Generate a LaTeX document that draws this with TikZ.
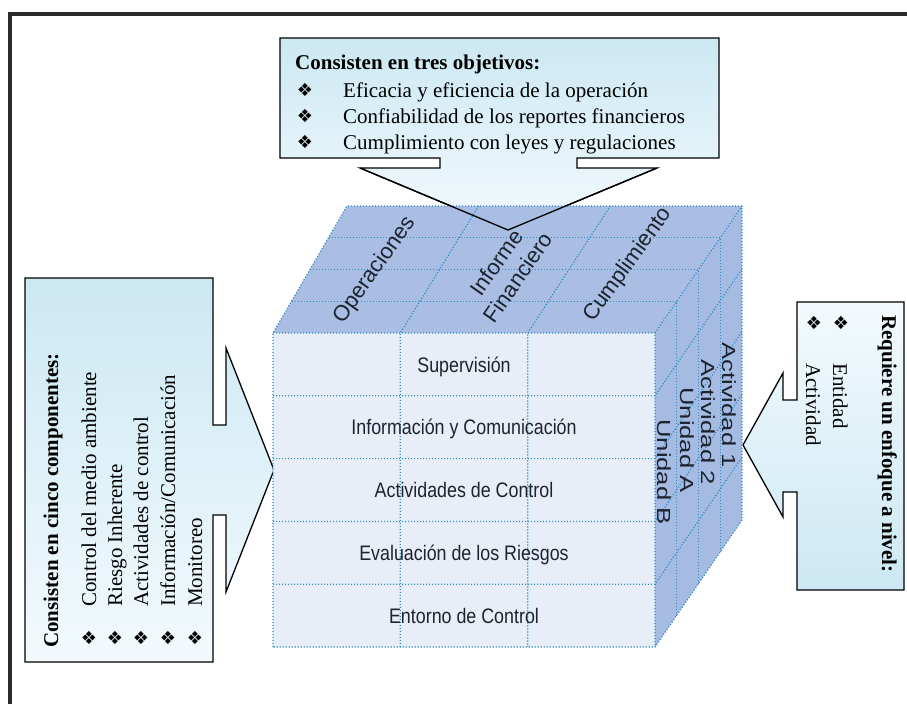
\documentclass[tikz,border=0pt]{standalone}
\usepackage{fontspec}
\setmainfont{Liberation Serif}
\setsansfont{Liberation Sans}
\newfontfamily\cubefont[FakeStretch=0.85]{Liberation Sans}
\newfontfamily\sidefont[FakeStretch=1.35]{Liberation Sans}
\newfontfamily\symfont{DejaVu Sans}
\usetikzlibrary{calc,positioning}
\definecolor{frameline}{HTML}{2B2B2B}
\definecolor{callblue}{RGB}{204,232,243}
\definecolor{calllight}{RGB}{243,250,253}
\definecolor{cubetop}{RGB}{169,190,226}
\definecolor{cubeside}{RGB}{166,187,225}
\definecolor{cubefront}{RGB}{232,238,248}
\definecolor{gridline}{RGB}{50,140,196}
\definecolor{cubetext}{RGB}{28,36,48}
\newcommand{\diabul}{{\symfont\fontsize{18}{18}\selectfont ❖}}
\tikzset{
    frameedge/.style={frameline, line width=4pt},
    callline/.style={draw=black, line width=1.3pt, line join=miter},
    dotline/.style={gridline, line width=1.2pt, dash pattern=on 1.2pt off 1.8pt},
    frontlab/.style={text=cubetext, anchor=base, inner sep=0pt, font=\cubefont\fontsize{21}{21}\selectfont},
    toplab/.style={text=cubetext, align=center, inner sep=0pt, font=\sffamily\fontsize{22}{26}\selectfont},
    sidelab/.style={text=cubetext, rotate=-90, inner sep=0pt, font=\sidefont\fontsize{19}{19}\selectfont},
    calltext/.style={anchor=base west, inner sep=0pt, font=\fontsize{21}{25}\selectfont},
    calltitle/.style={calltext, font=\bfseries\fontsize{21}{25}\selectfont},
    bul/.style={inner sep=0pt}
}
\begin{document}
\begin{tikzpicture}[x=1pt, y=-1pt]
\useasboundingbox (0,0) rectangle (907,704);
\draw[frameedge] (10,704) -- (10,14) -- (907,14);

% callouts
\coordinate (toptip) at (508,230);
\coordinate (lefttip) at (274,470);
\coordinate (righttip) at (743,445);
\shadedraw[callline, top color=callblue, bottom color=calllight]
    (280,38) -- (719,38) -- (719,158) -- (577,158) -- (577,168) -- (657,168) -- (toptip)
    -- (360,168) -- (440,168) -- (440,158) -- (280,158) -- cycle;
\shadedraw[callline, top color=callblue, bottom color=calllight]
    (25,278) -- (213,278) -- (213,425) -- (226,425) -- (226,348) -- (lefttip)
    -- (226,592) -- (226,515) -- (213,515) -- (213,662) -- (25,662) -- cycle;
\shadedraw[callline, top color=calllight, bottom color=callblue]
    (904,302) -- (797,302) -- (797,400) -- (783,400) -- (783,373) -- (righttip)
    -- (783,517) -- (783,492) -- (797,492) -- (797,590) -- (904,590) -- cycle;

% cube
\coordinate (ftl) at (273,333);
\coordinate (ftr) at (655,333);
\coordinate (fbl) at (273,647);
\coordinate (fbr) at (655,647);
\coordinate (btl) at (347,206);
\coordinate (btr) at (742,206);
\coordinate (bbr) at (742,520);
\fill[cubetop] (ftl) -- (btl) -- (btr) -- (ftr) -- cycle;
\fill[cubeside] (ftr) -- (btr) -- (bbr) -- (fbr) -- cycle;
\fill[cubefront] (ftl) rectangle (fbr);
\foreach \k in {1,2,3}
    \draw[dotline] ($(ftl)!\k/4!(btl)$) -- ($(ftr)!\k/4!(btr)$) -- ($(fbr)!\k/4!(bbr)$);
\foreach \k in {1,2}
    \draw[dotline] ($(btl)!\k/3!(btr)$) -- ($(ftl)!\k/3!(ftr)$) -- ($(fbl)!\k/3!(fbr)$);
\foreach \r in {1,...,4}
    \draw[dotline] ($(ftl)!\r/5!(fbl)$) -- ($(ftr)!\r/5!(fbr)$) -- ($(btr)!\r/5!(bbr)$);
\draw[dotline] (fbl) -- (ftl) -- (btl) -- (btr) -- (bbr) -- (fbr) -- cycle;
\draw[dotline] (ftl) -- (ftr) -- (fbr) (ftr) -- (btr);
\draw[callline] (360,168) -- (toptip) -- (657,168);

\node[toplab, rotate=55] (oper) at (375,270) {Operaciones};
\node[toplab, rotate=55] (infofin) at (507,270) {Informe\\Financiero};
\node[toplab, rotate=54] (cump) at (628,265) {Cumplimiento};

\node[frontlab] (sup) at (464,372) {Supervisión};
\node[frontlab] (info) at (464,434) {Información y Comunicación};
\node[frontlab] (act) at (464,497) {Actividades de Control};
\node[frontlab] (eval) at (464,560) {Evaluación de los Riesgos};
\node[frontlab] (ent) at (464,623) {Entorno de Control};

\node[sidelab] (act1) at (729,405) {Actividad 1};
\node[sidelab] (act2) at (708,422) {Actividad 2};
\node[sidelab] (unia) at (687,440) {Unidad A};
\node[sidelab] (unib) at (664,472) {Unidad B};

% top callout text
\node[calltitle] (objtit) at (295,69) {Consisten en tres objetivos:};
\node[calltext] (obj1) at (343,97) {Eficacia y eficiencia de la operación};
\node[calltext] (obj2) at (343,123) {Confiabilidad de los reportes financieros};
\node[calltext] (obj3) at (343,149) {Cumplimiento con leyes y regulaciones};
\foreach \n in {obj1,obj2,obj3}
    \node[bul] at ([xshift=-38pt, yshift=7pt]\n.base west) {\diabul};

% left callout text
\node[calltitle, rotate=90] (comptit) at (58,648) {Consisten en cinco componentes:};
\node[calltext, rotate=90] (comp1) at (96,607) {Control del medio ambiente};
\node[calltext, rotate=90] (comp2) at (122,607) {Riesgo Inherente};
\node[calltext, rotate=90] (comp3) at (148,607) {Actividades de control};
\node[calltext, rotate=90] (comp4) at (175,607) {Información/Comunicación};
\node[calltext, rotate=90] (comp5) at (202,607) {Monitoreo};
\foreach \n in {comp1,comp2,comp3,comp4,comp5}
    \node[bul] at ([xshift=-7pt, yshift=-31pt]\n.base west) {\diabul};

% right callout text
\node[calltitle, rotate=-90] (niveltit) at (882,315) {Requiere un enfoque a nivel:};
\node[calltext, rotate=-90] (nivel1) at (833,363) {Entidad};
\node[calltext, rotate=-90] (nivel2) at (806,363) {Actividad};
\foreach \n in {nivel1,nivel2}
    \node[bul] at ([xshift=8pt, yshift=40pt]\n.base west) {\diabul};
\end{tikzpicture}
\end{document}
